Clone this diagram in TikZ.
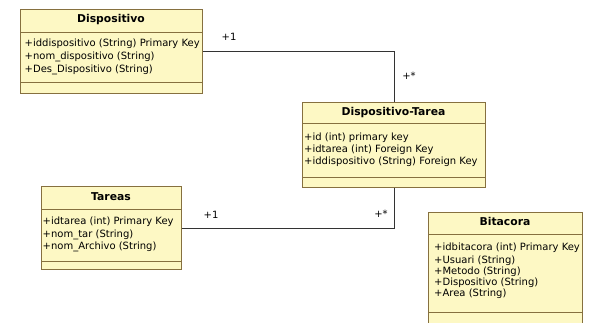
\documentclass[tikz,border=0pt]{standalone}
\usepackage{fontspec}
\setmainfont{DejaVu Sans}
\definecolor{umlfill}{HTML}{FDF8C4}
\definecolor{umlline}{HTML}{86703F}
\begin{document}
\begin{tikzpicture}[x=1pt,y=-1pt,
  box/.style={draw=umlline, fill=umlfill, line width=0.9pt, rectangle, inner sep=0, anchor=north west},
  divider/.style={draw=umlline, line width=0.9pt},
  ttl/.style={font=\fontsize{10.8}{12}\selectfont\bfseries, inner sep=0, text height=7.5pt, text depth=2pt},
  attr/.style={font=\fontsize{10}{12}\selectfont, anchor=west, inner sep=0, text height=7.5pt, text depth=2pt},
  lbl/.style={font=\fontsize{10}{12}\selectfont, inner sep=0},
  conn/.style={draw=black!80, line width=0.8pt}]
\useasboundingbox (0,0) rectangle (591,322);
\begin{scope}
\clip (0,0) rectangle (591,322);
% Dispositivo
\node[box, minimum width=182pt, minimum height=84pt] (disp) at (20,9) {};
\draw[divider] (20,32) -- (202,32);
\draw[divider] (20,82) -- (202,82);
\node[ttl] (dispt) at (111,20) {Dispositivo};
\node[attr] (dispa1) at (24.5,44) {+iddispositivo (String) Primary Key};
\node[attr] (dispa2) at (24.5,57) {+nom\_dispositivo (String)};
\node[attr] (dispa3) at (24.5,70) {+Des\_Dispositivo (String)};
% Dispositivo-Tarea
\node[box, minimum width=183pt, minimum height=85pt] (dt) at (302,102) {};
\draw[divider] (302,123) -- (485,123);
\draw[divider] (302,177) -- (485,177);
\node[ttl] (dtt) at (393.5,113) {Dispositivo-Tarea};
\node[attr] (dta1) at (304,138) {+id (int) primary key};
\node[attr] (dta2) at (304,150) {+idtarea (int) Foreign Key};
\node[attr] (dta3) at (304,162) {+iddispositivo (String) Foreign Key};
% Tareas
\node[box, minimum width=140pt, minimum height=83pt] (tar) at (41,186) {};
\draw[divider] (41,209) -- (181,209);
\draw[divider] (41,261) -- (181,261);
\node[ttl] (tart) at (111,198) {Tareas};
\node[attr] (tara1) at (42.5,222) {+idtarea (int) Primary Key};
\node[attr] (tara2) at (42.5,235) {+nom\_tar (String)};
\node[attr] (tara3) at (42.5,247) {+nom\_Archivo (String)};
% Bitacora
\node[box, minimum width=154pt, minimum height=120pt] (bit) at (428,212) {};
\draw[divider] (428,234) -- (582,234);
\draw[divider] (428,312) -- (582,312);
\node[ttl] (bitt) at (505,223) {Bitacora};
\node[attr] (bita1) at (434,248) {+idbitacora (int) Primary Key};
\node[attr] (bita2) at (434,260.5) {+Usuari (String)};
\node[attr] (bita3) at (434,271.5) {+Metodo (String)};
\node[attr] (bita4) at (434,283) {+Dispositivo (String)};
\node[attr] (bita5) at (434,294) {+Area (String)};
\end{scope}
% connectors
\draw[conn] (disp.east) -| (dt.north);
\draw[conn] (dt.south) |- (tar.east);
\node[lbl] (m1) at (229,37) {+1};
\node[lbl] (m2) at (409,76) {+*};
\node[lbl] (m3) at (211,215) {+1};
\node[lbl] (m4) at (381,214) {+*};
\end{tikzpicture}
\end{document}
